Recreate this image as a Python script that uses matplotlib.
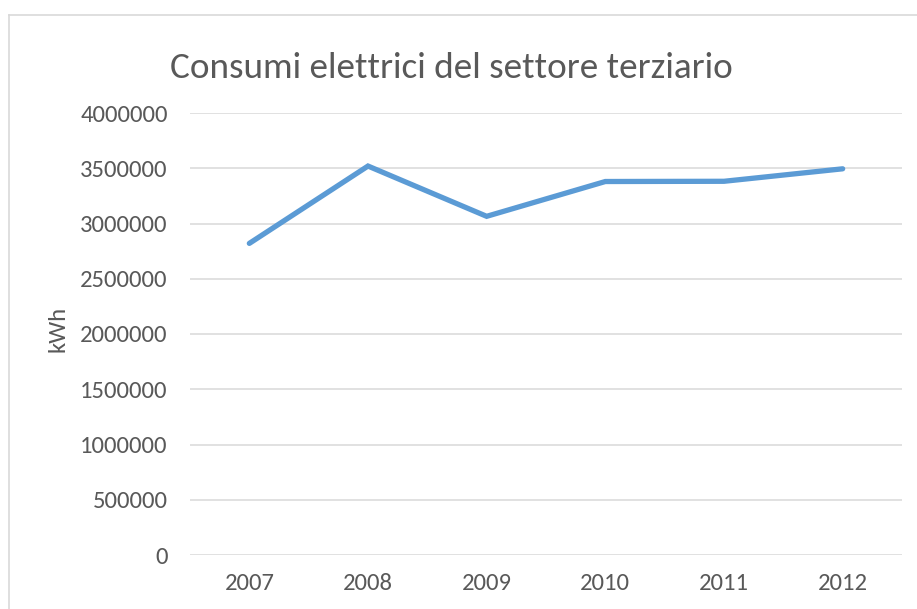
import matplotlib
matplotlib.use("Agg")
import matplotlib.pyplot as plt
from matplotlib import font_manager
from matplotlib.lines import Line2D

years = ["2007", "2008", "2009", "2010", "2011", "2012"]
consumi_kwh = [2820000, 3520000, 3065000, 3380000, 3382000, 3495000]
y_ticks = [0, 500000, 1000000, 1500000, 2000000, 2500000, 3000000, 3500000, 4000000]
title = "Consumi elettrici del settore terziario"
y_label = "kWh"

def pick_font(cands):
    for c in cands:
        try:
            font_manager.findfont(c, fallback_to_default=False)
            return c
        except Exception:
            continue
    return "DejaVu Sans"

FONT = pick_font(["Carlito", "Liberation Sans Narrow", "Lato", "Open Sans"])
plt.rcParams['font.family'] = [FONT, 'DejaVu Sans']

W, H = 917, 609
DPI = 100
fig = plt.figure(figsize=(W / DPI, H / DPI), dpi=DPI)
fig.patch.set_facecolor("white")

# chart frame (light gray border)
fig.add_artist(Line2D([8.5 / W, 8.5 / W], [0, 1 - 14.5 / H], transform=fig.transFigure,
                      color="#D9D9D9", lw=1.2))
fig.add_artist(Line2D([8.5 / W, 1], [1 - 14.5 / H, 1 - 14.5 / H], transform=fig.transFigure,
                      color="#D9D9D9", lw=1.2))

left, right = 190 / W, 902 / W
bottom, top = 1 - 555 / H, 1 - 113 / H
ax = fig.add_axes([left, bottom, right - left, top - bottom])
ax.set_facecolor("none")

x = list(range(len(years)))
ax.plot(x, consumi_kwh, color="#5B9BD5", lw=3.8, solid_capstyle="round",
        solid_joinstyle="miter", zorder=3)

ax.set_xlim(-0.5, len(years) - 0.5)
ax.set_ylim(0, 4000000)
ax.set_yticks(y_ticks)
ax.set_yticklabels([str(v) for v in y_ticks])
ax.set_xticks(x)
ax.set_xticklabels(years)
ax.yaxis.grid(True, color="#D9D9D9", lw=1.1)
ax.set_axisbelow(True)
for s in ax.spines.values():
    s.set_visible(False)
ax.tick_params(axis="both", length=0, labelsize=17.7, colors="#595959")
ax.tick_params(axis="y", pad=16)
ax.tick_params(axis="x", pad=13)

fig.text(58 / W, 1 - 329 / H, y_label, rotation=90, ha="center", va="center",
         fontsize=17.7, color="#595959")
fig.text(451 / W, 1 - 78 / H, title, ha="center", va="baseline",
         fontsize=26.7, color="#595959")

fig.savefig("out.png", dpi=DPI, facecolor="white")
